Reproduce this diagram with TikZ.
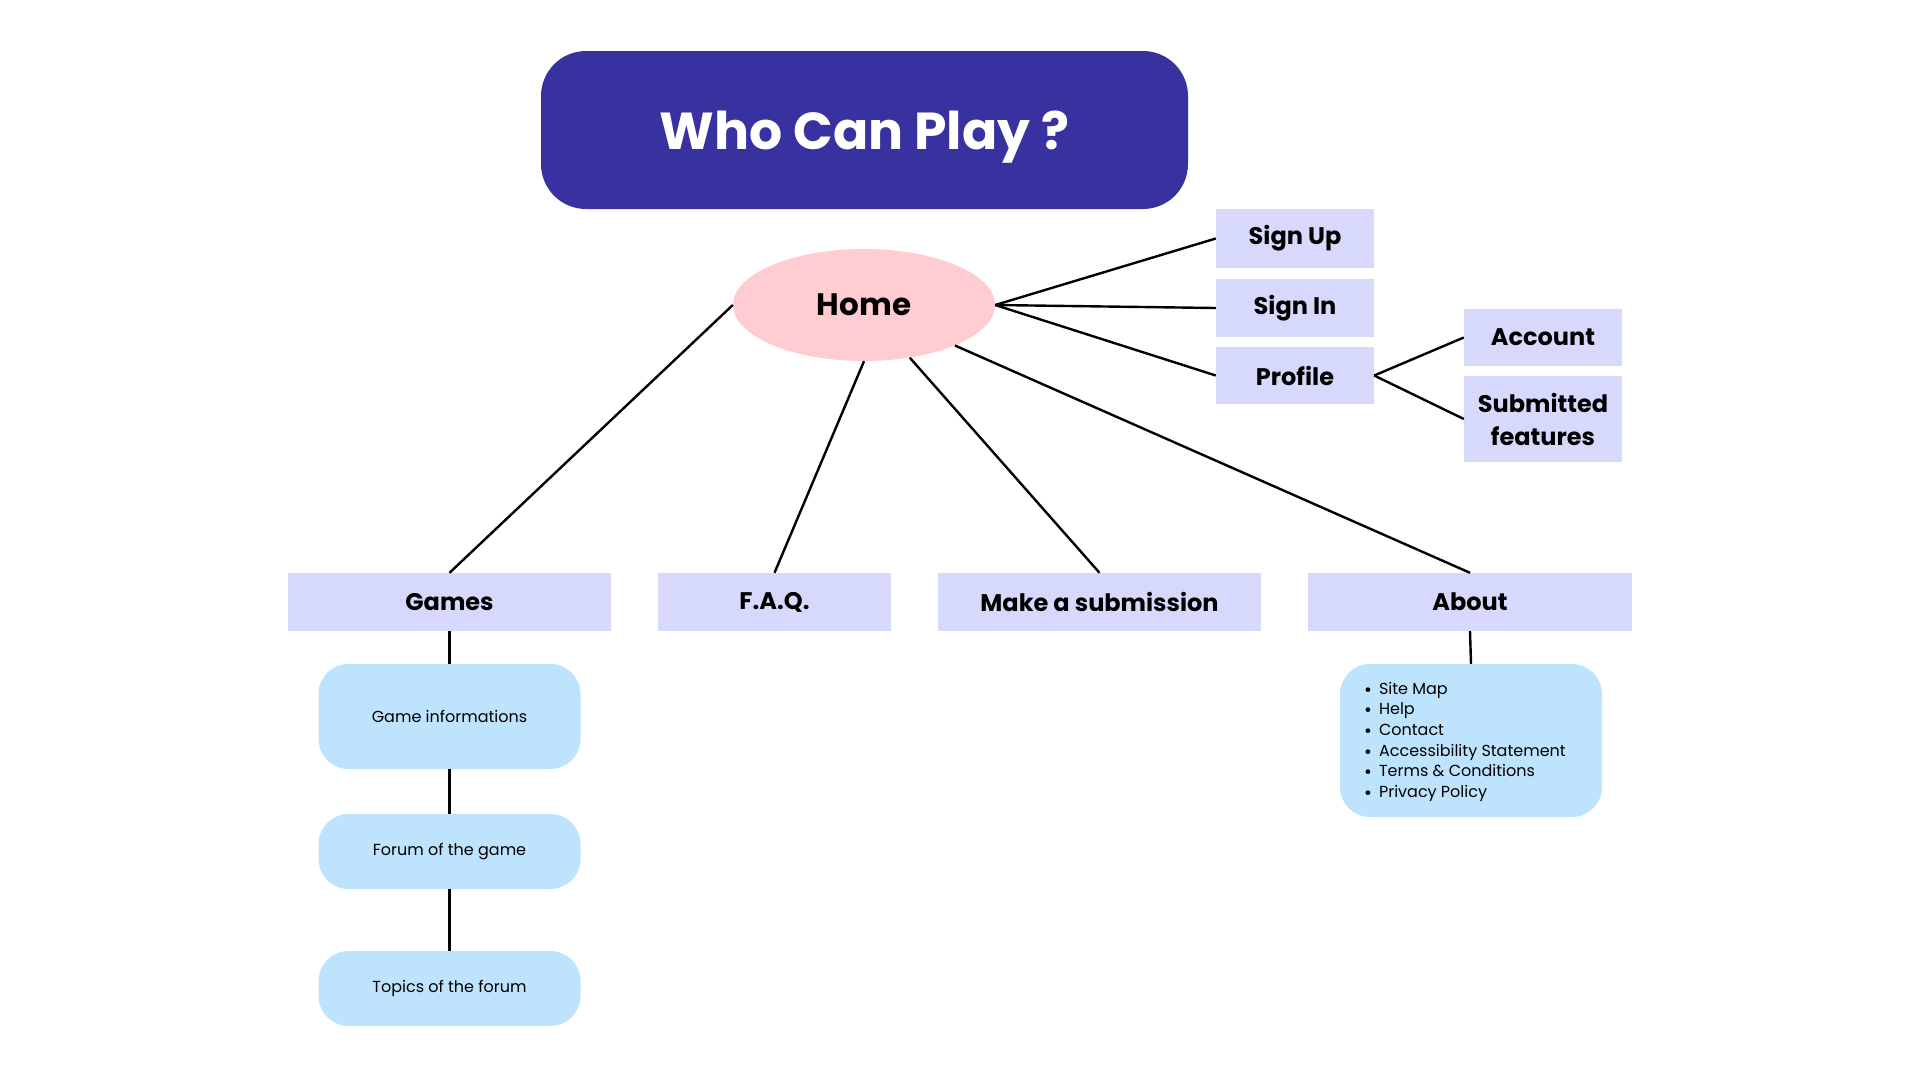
\documentclass[tikz,border=0pt]{standalone}
\usepackage{fontspec}
\setmainfont{Poppins}
\usetikzlibrary{shapes.geometric}
\definecolor{titlebg}{HTML}{3832A0}
\definecolor{homebg}{HTML}{FFCCD2}
\definecolor{lav}{HTML}{D7D9FC}
\definecolor{lblue}{HTML}{BEE3FD}
\newcommand{\mybul}{\raisebox{-2pt}{\fontsize{19}{19}\selectfont\textbullet}\hspace{7pt}}
\tikzset{
  conn/.style={draw=black, line width=2.4pt},
  lavbox/.style={fill=lav, draw=none, inner sep=0pt, font=\fontsize{24}{28}\selectfont\bfseries, align=center},
  bluebox/.style={fill=lblue, draw=none, rounded corners=30pt, inner sep=0pt, minimum width=262pt, font=\fontsize{16}{20}\selectfont},
}
\begin{document}
\begin{tikzpicture}[x=1pt,y=-1pt]
\useasboundingbox (0,0) rectangle (1920,1080);
\node[fill=titlebg, rounded corners=45pt, minimum width=647pt, minimum height=158pt, inner sep=0pt, text=white, font=\fontsize{52}{60}\selectfont\bfseries] (title) at (864.5,130) {\raisebox{-19pt}[0pt][0pt]{Who Can Play ?}};
\node[ellipse, fill=homebg, minimum width=262pt, minimum height=112pt, inner sep=0pt, font=\fontsize{31}{36}\selectfont\bfseries] (home) at (864,305) {Home};
% right boxes
\node[lavbox, minimum width=158pt, minimum height=59pt] (signup) at (1295,238.5) {Sign Up};
\node[lavbox, minimum width=158pt, minimum height=58pt] (signin) at (1295,308) {Sign In};
\node[lavbox, minimum width=158pt, minimum height=57pt] (profile) at (1295,375.5) {Profile};
\node[lavbox, minimum width=158pt, minimum height=57pt] (account) at (1543,337.5) {Account};
\node[lavbox, minimum width=158pt, minimum height=86pt, font=\fontsize{24}{33}\selectfont\bfseries] (subm) at (1543,419) {Submitted\\features};
% bottom row
\node[lavbox, minimum width=323pt, minimum height=58pt] (games) at (449.5,602) {Games};
\node[lavbox, minimum width=233pt, minimum height=58pt] (faq) at (774.5,602) {F.A.Q.};
\node[lavbox, minimum width=323pt, minimum height=58pt] (make) at (1099.5,602) {Make a submission};
\node[lavbox, minimum width=324pt, minimum height=58pt] (about) at (1470,602) {About};
% blue boxes
\node[bluebox, minimum height=105pt] (ginfo) at (449.5,716.5) {Game informations};
\node[bluebox, minimum height=75pt] (forum) at (449.5,851.5) {Forum of the game};
\node[bluebox, minimum height=75pt] (topics) at (449.5,988.5) {Topics of the forum};
\node[bluebox, minimum height=153pt] (aboutlist) at (1471,740.5) {};
\node[anchor=north west, inner sep=0pt, align=left, font=\fontsize{16}{20.6}\selectfont] (alist) at (1364,682) {%
\mybul Site Map\\
\mybul Help\\
\mybul Contact\\
\mybul Accessibility Statement\\
\mybul Terms \& Conditions\\
\mybul Privacy Policy};
% connectors
\draw[conn] (home.east) -- (signup.west);
\draw[conn] (home.east) -- (signin.west);
\draw[conn] (home.east) -- (profile.west);
\draw[conn] (profile.east) -- (account.west);
\draw[conn] (profile.east) -- (subm.west);
\draw[conn] (home.west) -- (games.north);
\draw[conn] (home.south) -- (faq.north);
\draw[conn] (home.-49) -- (make.north);
\draw[conn] (home.-24) -- (about.north);
\draw[conn] (games.south) -- (ginfo.north);
\draw[conn] (ginfo.south) -- (forum.north);
\draw[conn] (forum.south) -- (topics.north);
\draw[conn] (about.south) -- (aboutlist.north);
\end{tikzpicture}
\end{document}
